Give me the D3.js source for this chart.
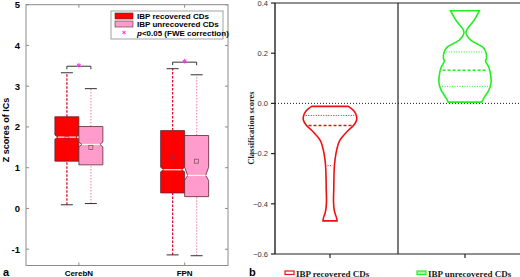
<!DOCTYPE html>
<html>

<head>
  <meta charset="utf-8">
  <title>IC z scores and classification scores</title>
  <style>
    body { margin: 0; background: #fff; }
  </style>
</head>

<body>
  <svg width="520" height="277"></svg>
  <script src="https://d3js.org/d3.v7.min.js"></script>
  <script>
    // ---- panel a: boxplots ----
    var networks = ["CerebN", "FPN"];
    var groups = ["IBP recovered CDs", "IBP unrecovered CDs"];
    var groupColors = ["#ff0000", "#ff9ccc"];
    var whiskerColors = ["#e8102e", "#f59ac2"];

    // per network, per group: [lower whisker, q1, median, q3, upper whisker]
    var cerebNStats = [[0.09, 1.16, 1.75, 2.25, 3.33], [0.12, 1.07, 1.57, 2.01, 2.94]];
    var fpnStats = [[-1.14, 0.38, 0.95, 1.91, 3.43], [-1.16, 0.29, 0.81, 1.79, 3.28]];
    // notch limits [low, high]
    var cerebNNotch = [[1.70, 1.80], [1.51, 1.63]];
    var fpnNotch = [[0.90, 1.01], [0.69, 1.01]];
    var cerebNMeans = [1.71, 1.50];
    var fpnMeans = [1.26, 1.16];
    // significance bracket heights
    var sigHeights = [3.49, 3.59];
    var yTicksA = [-1, 0, 1, 2, 3, 4, 5];

    // ---- panel b: violins ----
    var classes = ["IBP recovered CDs", "IBP unrecovered CDs"];
    var violinColors = ["#ee1111", "#22ee22"];
    var recScores = [-0.012, -0.03, -0.05, -0.065, -0.088, -0.105, -0.121, -0.14, -0.155, -0.18, -0.2, -0.24, -0.28, -0.34, -0.39, -0.42, -0.44, -0.455, -0.468];
    var recDensity = [0.68, 0.89, 0.98, 0.99, 0.87, 0.70, 0.56, 0.41, 0.33, 0.26, 0.22, 0.17, 0.15, 0.14, 0.13, 0.15, 0.19, 0.24, 0.26];
    var unrecScores = [0.369, 0.332, 0.292, 0.279, 0.252, 0.225, 0.205, 0.179, 0.169, 0.145, 0.105, 0.079, 0.052, 0.025, 0.005];
    var unrecDensity = [0.53, 0.34, 0.06, 0.04, 0.21, 0.65, 0.77, 0.80, 0.76, 0.88, 0.96, 0.96, 0.88, 0.72, 0.62];
    var recQuartiles = [-0.048, -0.088, -0.248];
    var unrecQuartiles = [0.205, 0.132, 0.068];
    var yTicksB = [0.4, 0.2, 0.0, -0.2, -0.4, -0.6];

    var svg = d3.select("svg");

    // ===== panel a =====
    var xA = d3.scaleLinear().domain([0.5, 2.41]).range([26, 228]);
    var yA = d3.scaleLinear().domain([-1.4, 5]).range([265.5, 4.7]);
    var boxW = 24;
    var axisGray = "#8c8c8c";

    var pa = svg.append("g");
    pa.append("rect")
      .attr("x", xA(0.5)).attr("y", yA(5))
      .attr("width", xA(2.41) - xA(0.5)).attr("height", yA(-1.4) - yA(5))
      .attr("fill", "none").attr("stroke", axisGray).attr("stroke-width", 1);

    yTicksA.forEach(function (t) {
      pa.append("line").attr("x1", xA(0.5)).attr("x2", xA(0.5) + 3)
        .attr("y1", yA(t)).attr("y2", yA(t)).attr("stroke", axisGray);
      pa.append("line").attr("x1", xA(2.41)).attr("x2", xA(2.41) - 3)
        .attr("y1", yA(t)).attr("y2", yA(t)).attr("stroke", axisGray);
      pa.append("text").attr("x", 20).attr("y", yA(t) + 3.5)
        .attr("text-anchor", "end")
        .style("font", "bold 9.5px 'Liberation Sans', sans-serif")
        .text(t);
    });

    var allStats = [cerebNStats, fpnStats];
    var allNotch = [cerebNNotch, fpnNotch];
    var allMeans = [cerebNMeans, fpnMeans];

    networks.forEach(function (net, i) {
      var cx = xA(i + 1);
      pa.append("line").attr("x1", cx).attr("x2", cx)
        .attr("y1", yA(5)).attr("y2", yA(5) + 3).attr("stroke", axisGray);
      pa.append("line").attr("x1", cx).attr("x2", cx)
        .attr("y1", yA(-1.4)).attr("y2", yA(-1.4) - 3).attr("stroke", axisGray);
      pa.append("text").attr("x", cx).attr("y", 276)
        .attr("text-anchor", "middle")
        .style("font", "bold 8px 'Liberation Sans', sans-serif")
        .text(net);

      groups.forEach(function (g, j) {
        var s = allStats[i][j];
        var n = allNotch[i][j];
        var left = cx + (j === 0 ? -boxW : 0);
        var right = left + boxW;
        var bc = left + boxW / 2;
        var ind = 3;

        // whiskers
        [[s[0], s[1]], [s[3], s[4]]].forEach(function (w) {
          pa.append("line").attr("x1", bc).attr("x2", bc)
            .attr("y1", yA(w[0])).attr("y2", yA(w[1]))
            .attr("stroke", whiskerColors[j]).attr("stroke-width", 1.3)
            .attr("stroke-dasharray", j === 0 ? "2.5,1.5" : "1.5,1.5");
        });
        [s[0], s[4]].forEach(function (v) {
          pa.append("line").attr("x1", bc - 6).attr("x2", bc + 6)
            .attr("y1", yA(v)).attr("y2", yA(v))
            .attr("stroke", "#333").attr("stroke-width", 1);
        });

        // notched box
        var pts = [
          [left, yA(s[1])], [left, yA(n[0])], [left + ind, yA(s[2])], [left, yA(n[1])],
          [left, yA(s[3])], [right, yA(s[3])], [right, yA(n[1])], [right - ind, yA(s[2])],
          [right, yA(n[0])], [right, yA(s[1])]
        ];
        pa.append("path").attr("d", d3.line()(pts) + "Z")
          .attr("fill", groupColors[j]).attr("stroke", "#5a2a30").attr("stroke-width", 0.8);
        pa.append("line").attr("x1", left + ind).attr("x2", right - ind)
          .attr("y1", yA(s[2])).attr("y2", yA(s[2]))
          .attr("stroke", "#fff4e0").attr("stroke-width", 1.2);

        // mean marker
        pa.append("rect").attr("x", bc - 2).attr("y", yA(allMeans[i][j]) - 2)
          .attr("width", 4).attr("height", 4)
          .attr("fill", "none").attr("stroke", j === 0 ? "#b0203a" : "#7a4a5a").attr("stroke-width", 0.7);
      });

      // significance bracket
      var bl = cx - boxW / 2, br = cx + boxW / 2, by = yA(sigHeights[i]);
      pa.append("path")
        .attr("d", d3.line()([[bl, by + 3], [bl, by], [br, by], [br, by + 3]]))
        .attr("fill", "none").attr("stroke", "#333").attr("stroke-width", 1);
      pa.append("path").attr("d", d3.symbol(d3.symbolAsterisk, 14)())
        .attr("transform", "translate(" + cx + "," + (by - 1) + ")")
        .attr("stroke", "#ff33ee").attr("stroke-width", 1);
    });

    // legend
    var lg = pa.append("g");
    lg.append("rect").attr("x", 111).attr("y", 11).attr("width", 112).attr("height", 28)
      .attr("fill", "#fff").attr("stroke", axisGray).attr("stroke-width", 0.8);
    groups.forEach(function (g, j) {
      lg.append("rect").attr("x", 115).attr("y", 13 + j * 8).attr("width", 18).attr("height", 6)
        .attr("fill", groupColors[j]).attr("stroke", "#5a2a30").attr("stroke-width", 0.6);
      lg.append("text").attr("x", 137).attr("y", 19 + j * 8)
        .style("font", "bold 8px 'Liberation Sans', sans-serif")
        .text(g);
    });
    lg.append("path").attr("d", d3.symbol(d3.symbolAsterisk, 10)())
      .attr("transform", "translate(124,32.5)")
      .attr("stroke", "#ff33ee").attr("stroke-width", 1);
    var sigText = lg.append("text").attr("x", 137).attr("y", 35.5)
      .style("font", "bold 8px 'Liberation Sans', sans-serif");
    sigText.append("tspan").style("font-style", "italic").text("p");
    sigText.append("tspan").text("<0.05 (FWE correction)");

    pa.append("text").attr("transform", "translate(9,130) rotate(-90)")
      .attr("text-anchor", "middle")
      .style("font", "bold 9px 'Liberation Sans', sans-serif")
      .text("Z scores of ICs");
    pa.append("text").attr("x", 3).attr("y", 276)
      .style("font", "bold 11px 'Liberation Sans', sans-serif").text("a");

    // ===== panel b =====
    var xB = d3.scalePoint().domain(classes).range([330, 465]);
    var yB = d3.scaleLinear().domain([-0.6, 0.4]).range([254, 3]);
    var wB = d3.scaleLinear().domain([0, 1]).range([0, 27]);
    var pb = svg.append("g");

    pb.append("line").attr("x1", 275).attr("x2", 520).attr("y1", yB(0.4)).attr("y2", yB(0.4))
      .attr("stroke", "#222").attr("stroke-width", 1.2);
    pb.append("line").attr("x1", 275).attr("x2", 520).attr("y1", yB(-0.6)).attr("y2", yB(-0.6))
      .attr("stroke", "#222").attr("stroke-width", 1.2);
    pb.append("line").attr("x1", 275).attr("x2", 275).attr("y1", yB(0.4)).attr("y2", yB(-0.6))
      .attr("stroke", "#222").attr("stroke-width", 1.4);
    pb.append("line").attr("x1", 398).attr("x2", 398).attr("y1", yB(0.4)).attr("y2", yB(-0.6))
      .attr("stroke", "#222").attr("stroke-width", 1.2);
    pb.append("line").attr("x1", 275).attr("x2", 520).attr("y1", yB(0)).attr("y2", yB(0))
      .attr("stroke", "#222").attr("stroke-width", 1).attr("stroke-dasharray", "1,2");

    yTicksB.forEach(function (t) {
      pb.append("line").attr("x1", 271).attr("x2", 275).attr("y1", yB(t)).attr("y2", yB(t))
        .attr("stroke", "#222").attr("stroke-width", 1.2);
      pb.append("text").attr("x", 268).attr("y", yB(t) + 2.7).attr("text-anchor", "end")
        .style("font", "7.5px 'Liberation Sans', sans-serif").attr("fill", "#333")
        .text(d3.format(".1f")(t));
    });

    var violinData = [
      { y: recScores, d: recDensity, q: recQuartiles },
      { y: unrecScores, d: unrecDensity, q: unrecQuartiles }
    ];

    classes.forEach(function (c, i) {
      var cx = xB(c);
      var v = violinData[i];
      var pts = v.y.map(function (y, k) { return { y: y, d: v.d[k] }; });
      var area = d3.area()
        .y(function (p) { return yB(p.y); })
        .x0(function (p) { return cx - wB(p.d); })
        .x1(function (p) { return cx + wB(p.d); })
        .curve(d3.curveCatmullRom);
      pb.append("path").attr("d", area(pts))
        .attr("fill", "none").attr("stroke", violinColors[i]).attr("stroke-width", 1.6);

      var dens = d3.scaleLinear().domain(v.y).range(v.d);
      v.q.forEach(function (q, k) {
        var hw = wB(dens(q)) - 2;
        pb.append("line").attr("x1", cx - hw).attr("x2", cx + hw)
          .attr("y1", yB(q)).attr("y2", yB(q))
          .attr("stroke", violinColors[i]).attr("stroke-width", k === 1 ? 1.4 : 1)
          .attr("stroke-dasharray", k === 1 ? "3,2" : "1,1.5");
      });

      pb.append("line").attr("x1", cx).attr("x2", cx).attr("y1", yB(-0.6)).attr("y2", yB(-0.6) + 4)
        .attr("stroke", "#222").attr("stroke-width", 1.2);

      var lx = i === 0 ? 285 : 417;
      pb.append("rect").attr("x", lx).attr("y", 271).attr("width", 9).attr("height", 3.5)
        .attr("fill", i === 0 ? "#fff" : "#aaf5aa").attr("stroke", violinColors[i]).attr("stroke-width", 1.2);
      pb.append("text").attr("x", lx + 11).attr("y", 276.5)
        .style("font", "bold 9px 'Liberation Serif', serif").attr("fill", "#222")
        .text(c);
    });

    pb.append("text").attr("transform", "translate(254,128) rotate(-90)")
      .attr("text-anchor", "middle")
      .style("font", "bold 8.5px 'Liberation Serif', serif").attr("fill", "#222")
      .text("Classification scores");
    pb.append("text").attr("x", 249).attr("y", 276)
      .style("font", "bold 11px 'Liberation Sans', sans-serif").text("b");
  </script>

</body>

</html>
